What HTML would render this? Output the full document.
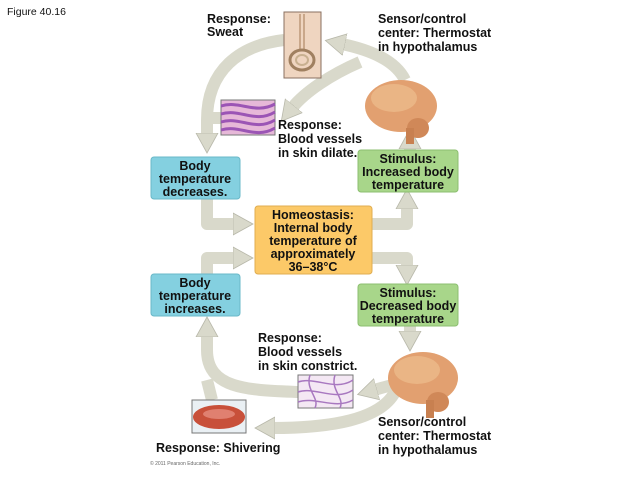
<!DOCTYPE html>
<html><head><meta charset="utf-8"><style>
body{margin:0;background:#fff;}
svg{display:block;font-family:"Liberation Sans",sans-serif;}
.b{font-weight:bold;font-size:12.5px;fill:#111;}
</style></head><body>
<svg width="638" height="479" viewBox="0 0 638 479" xmlns="http://www.w3.org/2000/svg">
<defs>
<marker id="ah" markerUnits="userSpaceOnUse" markerWidth="24" markerHeight="26" refX="3" refY="13" orient="auto">
<path d="M0,2 L20,13 L0,24 Z" fill="#d9d9cb" stroke="#b8b8aa" stroke-width="0.8"/>
</marker>
</defs>
<text x="7" y="15" font-size="10.5" fill="#111">Figure 40.16</text>
<g fill="none" stroke="#d9d9cb" stroke-width="12" stroke-linejoin="round">
<path d="M405,80 C395,60 370,50 342,44" marker-end="url(#ah)"/>
<path d="M360,62 C330,75 305,92 292,108" marker-end="url(#ah)"/>
<path d="M284,40 C240,45 207,70 207,120 L207,136" marker-end="url(#ah)"/>
<path d="M221,118 L207,118"/>
<path d="M207,199 L207,224 L236,224" marker-end="url(#ah)"/>
<path d="M372,224 L407,224 L407,206" marker-end="url(#ah)"/>
<path d="M410,150 L410,146" marker-end="url(#ah)"/>
<path d="M372,258 L407,258 L407,268" marker-end="url(#ah)"/>
<path d="M410,326 L410,334" marker-end="url(#ah)"/>
<path d="M207,274 L207,258 L236,258" marker-end="url(#ah)"/>
<path d="M298,392 C250,390 207,390 207,350 L207,334" marker-end="url(#ah)"/>
<path d="M392,385 L374,390" marker-end="url(#ah)"/>
<path d="M395,392 C380,420 330,428 272,428" marker-end="url(#ah)"/>
<path d="M212,400 L207,380"/>
</g>
<rect x="151" y="157" width="89" height="42" rx="3" fill="#84d0e0" stroke="#6ab8c8"/>
<text class="b" text-anchor="middle"><tspan x="195" y="170">Body</tspan><tspan x="195" y="183">temperature</tspan><tspan x="195" y="196">decreases.</tspan></text>
<rect x="151" y="274" width="89" height="42" rx="3" fill="#84d0e0" stroke="#6ab8c8"/>
<text class="b" text-anchor="middle"><tspan x="195" y="287">Body</tspan><tspan x="195" y="300">temperature</tspan><tspan x="195" y="313">increases.</tspan></text>
<rect x="358" y="150" width="100" height="42" rx="3" fill="#a8d68a" stroke="#8cbf70"/>
<text class="b" text-anchor="middle"><tspan x="408" y="163">Stimulus:</tspan><tspan x="408" y="176">Increased body</tspan><tspan x="408" y="189">temperature</tspan></text>
<rect x="358" y="284" width="100" height="42" rx="3" fill="#a8d68a" stroke="#8cbf70"/>
<text class="b" text-anchor="middle"><tspan x="408" y="297">Stimulus:</tspan><tspan x="408" y="310">Decreased body</tspan><tspan x="408" y="323">temperature</tspan></text>
<rect x="255" y="206" width="117" height="68" rx="3" fill="#fcc968" stroke="#e0ad50"/>
<text class="b" text-anchor="middle"><tspan x="313" y="219">Homeostasis:</tspan><tspan x="313" y="232">Internal body</tspan><tspan x="313" y="245">temperature of</tspan><tspan x="313" y="258">approximately</tspan><tspan x="313" y="271">36–38°C</tspan></text>
<text class="b"><tspan x="207" y="23">Response:</tspan><tspan x="207" y="36">Sweat</tspan></text>
<text class="b"><tspan x="378" y="23">Sensor/control</tspan><tspan x="378" y="37">center: Thermostat</tspan><tspan x="378" y="51">in hypothalamus</tspan></text>
<text class="b"><tspan x="278" y="129">Response:</tspan><tspan x="278" y="143">Blood vessels</tspan><tspan x="278" y="157">in skin dilate.</tspan></text>
<text class="b"><tspan x="258" y="342">Response:</tspan><tspan x="258" y="356">Blood vessels</tspan><tspan x="258" y="370">in skin constrict.</tspan></text>
<text class="b"><tspan x="378" y="426">Sensor/control</tspan><tspan x="378" y="440">center: Thermostat</tspan><tspan x="378" y="454">in hypothalamus</tspan></text>
<text class="b" x="156" y="452">Response: Shivering</text>
<text x="150" y="465" font-size="5" fill="#666">© 2011 Pearson Education, Inc.</text>
<rect x="284" y="12" width="37" height="66" fill="#efd5c0" stroke="#8a7060"/>
<path d="M300,14 L300,50 M304,14 L304,50" stroke="#c9a78a" stroke-width="2"/>
<ellipse cx="302" cy="60" rx="12" ry="10" fill="none" stroke="#a08060" stroke-width="3"/>
<ellipse cx="302" cy="60" rx="6" ry="5" fill="none" stroke="#c8b090" stroke-width="2"/>
<rect x="221" y="100" width="54" height="35" fill="#e6b8d8" stroke="#777"/>
<path d="M221,106 C240,100 255,115 275,104 M221,114 C240,108 255,124 275,112 M221,122 C240,116 255,132 275,120 M221,130 C240,124 255,140 275,128" stroke="#9b55b5" stroke-width="3" fill="none"/>
<rect x="298" y="375" width="55" height="33" fill="#f4e8f4" stroke="#777"/>
<path d="M298,382 C315,376 335,392 353,380 M298,392 C315,386 335,402 353,390 M298,402 C315,396 335,410 353,400 M310,375 C305,390 320,398 315,408 M335,375 C330,390 345,398 340,408" stroke="#a878c0" stroke-width="1.5" fill="none"/>
<rect x="192" y="400" width="54" height="33" fill="#eaf0f4" stroke="#777"/>
<ellipse cx="219" cy="417" rx="26" ry="12" fill="#c8503a"/>
<ellipse cx="219" cy="414" rx="16" ry="5" fill="#e08070"/>
<g>
<ellipse cx="401" cy="106" rx="36" ry="26" fill="#e2a070"/>
<ellipse cx="394" cy="98" rx="23" ry="14" fill="#eab585"/>
<ellipse cx="418" cy="128" rx="11" ry="10" fill="#d08858"/>
<rect x="406" y="128" width="8" height="16" fill="#c88050"/>
</g>
<g>
<ellipse cx="423" cy="378" rx="35" ry="26" fill="#e2a070"/>
<ellipse cx="417" cy="370" rx="23" ry="14" fill="#eab585"/>
<ellipse cx="438" cy="402" rx="11" ry="10" fill="#d08858"/>
<rect x="426" y="400" width="8" height="18" fill="#c88050"/>
</g>
</svg>
</body></html>
